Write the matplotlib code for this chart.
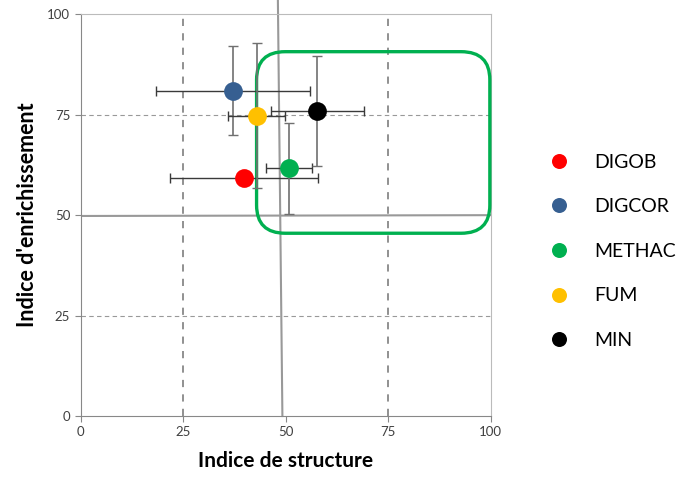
import matplotlib.pyplot as plt
from matplotlib.patches import FancyBboxPatch

plt.rcParams['font.family'] = ['Lato', 'DejaVu Sans']

# Données
names = ['DIGOB', 'DIGCOR', 'METHAC', 'FUM', 'MIN']
colors = ['#ff0000', '#365f91', '#00b050', '#ffc000', '#000000']
struct = [39.9, 37.2, 50.7, 42.9, 57.7]
enrich = [59.2, 81.0, 61.7, 74.8, 75.9]
struct_err = [18.0, 18.8, 5.6, 6.9, 11.3]
enrich_err = [0.0, 11.0, 11.3, 18.0, 13.7]

ticks = [0, 25, 50, 75, 100]

# lignes de séparation tracées à la main (légèrement inclinées)
vsep_x = [48.1, 49.2]
vsep_y = [103.5, 0]
hsep_x = [0, 100]
hsep_y = [49.8, 50.0]

fig = plt.figure(figsize=(6.81, 4.79), dpi=100)
ax = fig.add_axes([0.1185, 0.1315, 0.602, 0.8386])

ax.set_xlim(0, 100)
ax.set_ylim(0, 100)
ax.set_xticks(ticks)
ax.set_yticks(ticks)
ax.tick_params(labelsize=9.5, colors='#404040', length=4, color='#888888')

for v in (25, 75):
    ax.axvline(v, color='#888888', ls=(0, (4, 4)), lw=1.3, zorder=1)
    ax.axhline(v, color='#999999', ls=(0, (4, 3)), lw=0.8, zorder=1)

ax.plot(vsep_x, vsep_y, color='#999999', lw=1.5, clip_on=False, zorder=2)
ax.plot(hsep_x, hsep_y, color='#999999', lw=1.5, zorder=2)

for s in ('top', 'right'):
    ax.spines[s].set_color('#bbbbbb')
for s in ('left', 'bottom'):
    ax.spines[s].set_color('#888888')

box = FancyBboxPatch((42.9 + 7, 45.5 + 7), 99.8 - 42.9 - 14, 90.7 - 45.5 - 14,
                     boxstyle='round,pad=7', fc='none', ec='#00b050', lw=2.4,
                     clip_on=False, zorder=3)
ax.add_patch(box)

for i in range(len(names)):
    ax.errorbar(struct[i], enrich[i], xerr=struct_err[i], fmt='none',
                ecolor='#3a3a3a', elinewidth=1.0, capsize=3.5, capthick=1.0, zorder=4)
    if enrich_err[i] > 0:
        ax.errorbar(struct[i], enrich[i], yerr=enrich_err[i], fmt='none',
                    ecolor='#707070', elinewidth=1.2, capsize=3.5, capthick=1.0, zorder=4)
    ax.plot(struct[i], enrich[i], 'o', color=colors[i], ms=13.5, mec='none',
            zorder=5, label=names[i])

ax.set_xlabel('Indice de structure', fontsize=15, fontweight='bold', labelpad=9)
ax.set_ylabel("Indice d'enrichissement", fontsize=15.5, fontweight='bold', labelpad=7)

leg = fig.legend(loc='upper left', bbox_to_anchor=(0.767, 0.716), frameon=False,
                 fontsize=14, labelspacing=1.42, handletextpad=0.8,
                 markerscale=0.8)

fig.savefig('out.png', dpi=100)
